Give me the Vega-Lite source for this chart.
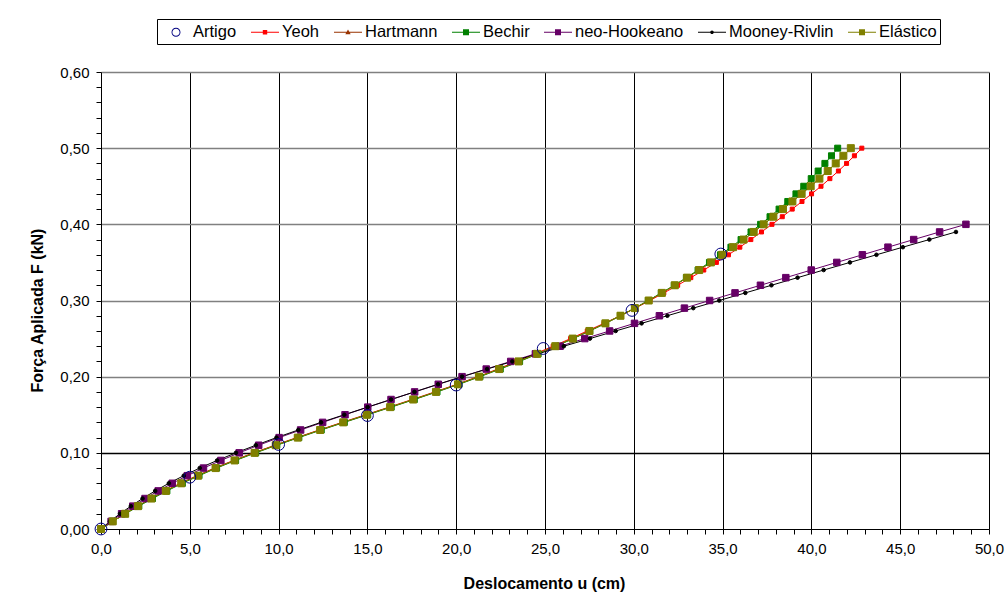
{
"$schema": "https://vega.github.io/schema/vega-lite/v6.json",
"width": 888, "height": 457,
"autosize": "none",
"padding": {"left": 101, "top": 72, "right": 16, "bottom": 77},
"background": "white",
"config": {"view": {"stroke": null}, "font": "Liberation Sans"},
"data": {"values": [
{"s":"Yeoh","F":0,"u":0},{"s":"Yeoh","F":0.01,"u":0.64},{"s":"Yeoh","F":0.02,"u":1.34},{"s":"Yeoh","F":0.03,"u":2.06},{"s":"Yeoh","F":0.04,"u":2.81},{"s":"Yeoh","F":0.05,"u":3.59},{"s":"Yeoh","F":0.06,"u":4.46},{"s":"Yeoh","F":0.07,"u":5.40},{"s":"Yeoh","F":0.08,"u":6.39},{"s":"Yeoh","F":0.09,"u":7.46},{"s":"Yeoh","F":0.10,"u":8.59},{"s":"Yeoh","F":0.11,"u":9.78},{"s":"Yeoh","F":0.12,"u":11.02},{"s":"Yeoh","F":0.13,"u":12.28},{"s":"Yeoh","F":0.14,"u":13.58},{"s":"Yeoh","F":0.15,"u":14.90},{"s":"Yeoh","F":0.16,"u":16.22},{"s":"Yeoh","F":0.17,"u":17.52},{"s":"Yeoh","F":0.18,"u":18.80},{"s":"Yeoh","F":0.19,"u":20.04},{"s":"Yeoh","F":0.20,"u":21.22},{"s":"Yeoh","F":0.21,"u":22.34},{"s":"Yeoh","F":0.22,"u":23.39},{"s":"Yeoh","F":0.23,"u":24.44},{"s":"Yeoh","F":0.24,"u":25.46},{"s":"Yeoh","F":0.25,"u":26.44},{"s":"Yeoh","F":0.26,"u":27.38},{"s":"Yeoh","F":0.27,"u":28.32},{"s":"Yeoh","F":0.28,"u":29.25},{"s":"Yeoh","F":0.29,"u":30.09},{"s":"Yeoh","F":0.30,"u":30.91},{"s":"Yeoh","F":0.31,"u":31.69},{"s":"Yeoh","F":0.32,"u":32.47},{"s":"Yeoh","F":0.33,"u":33.21},{"s":"Yeoh","F":0.34,"u":33.94},{"s":"Yeoh","F":0.35,"u":34.65},{"s":"Yeoh","F":0.36,"u":35.33},{"s":"Yeoh","F":0.37,"u":35.97},{"s":"Yeoh","F":0.38,"u":36.59},{"s":"Yeoh","F":0.39,"u":37.19},{"s":"Yeoh","F":0.40,"u":37.78},{"s":"Yeoh","F":0.41,"u":38.36},{"s":"Yeoh","F":0.42,"u":38.92},{"s":"Yeoh","F":0.43,"u":39.47},{"s":"Yeoh","F":0.44,"u":40.01},{"s":"Yeoh","F":0.45,"u":40.54},{"s":"Yeoh","F":0.46,"u":41.04},{"s":"Yeoh","F":0.47,"u":41.52},{"s":"Yeoh","F":0.48,"u":41.98},{"s":"Yeoh","F":0.49,"u":42.42},{"s":"Yeoh","F":0.50,"u":42.84},
{"s":"Hartmann","F":0,"u":0},{"s":"Hartmann","F":0.01,"u":0.66},{"s":"Hartmann","F":0.02,"u":1.36},{"s":"Hartmann","F":0.03,"u":2.08},{"s":"Hartmann","F":0.04,"u":2.84},{"s":"Hartmann","F":0.05,"u":3.65},{"s":"Hartmann","F":0.06,"u":4.52},{"s":"Hartmann","F":0.07,"u":5.46},{"s":"Hartmann","F":0.08,"u":6.45},{"s":"Hartmann","F":0.09,"u":7.52},{"s":"Hartmann","F":0.10,"u":8.65},{"s":"Hartmann","F":0.11,"u":9.84},{"s":"Hartmann","F":0.12,"u":11.08},{"s":"Hartmann","F":0.13,"u":12.34},{"s":"Hartmann","F":0.14,"u":13.64},{"s":"Hartmann","F":0.15,"u":14.96},{"s":"Hartmann","F":0.16,"u":16.28},{"s":"Hartmann","F":0.17,"u":17.58},{"s":"Hartmann","F":0.18,"u":18.86},{"s":"Hartmann","F":0.19,"u":20.10},{"s":"Hartmann","F":0.20,"u":21.28},{"s":"Hartmann","F":0.21,"u":22.42},{"s":"Hartmann","F":0.22,"u":23.51},{"s":"Hartmann","F":0.23,"u":24.56},{"s":"Hartmann","F":0.24,"u":25.58},{"s":"Hartmann","F":0.25,"u":26.56},{"s":"Hartmann","F":0.26,"u":27.50},{"s":"Hartmann","F":0.27,"u":28.40},{"s":"Hartmann","F":0.28,"u":29.25},{"s":"Hartmann","F":0.29,"u":30.06},{"s":"Hartmann","F":0.30,"u":30.84},{"s":"Hartmann","F":0.31,"u":31.58},{"s":"Hartmann","F":0.32,"u":32.31},{"s":"Hartmann","F":0.33,"u":33.00},{"s":"Hartmann","F":0.34,"u":33.68},{"s":"Hartmann","F":0.35,"u":34.34},{"s":"Hartmann","F":0.36,"u":34.98},{"s":"Hartmann","F":0.37,"u":35.59},{"s":"Hartmann","F":0.38,"u":36.18},{"s":"Hartmann","F":0.39,"u":36.75},{"s":"Hartmann","F":0.40,"u":37.31},{"s":"Hartmann","F":0.41,"u":37.86},{"s":"Hartmann","F":0.42,"u":38.40},{"s":"Hartmann","F":0.43,"u":38.93},{"s":"Hartmann","F":0.44,"u":39.45},{"s":"Hartmann","F":0.45,"u":39.96},{"s":"Hartmann","F":0.46,"u":40.45},{"s":"Hartmann","F":0.47,"u":40.92},{"s":"Hartmann","F":0.48,"u":41.37},{"s":"Hartmann","F":0.49,"u":41.80},{"s":"Hartmann","F":0.50,"u":42.22},
{"s":"Bechir","F":0,"u":0},{"s":"Bechir","F":0.01,"u":0.66},{"s":"Bechir","F":0.02,"u":1.37},{"s":"Bechir","F":0.03,"u":2.13},{"s":"Bechir","F":0.04,"u":2.90},{"s":"Bechir","F":0.05,"u":3.71},{"s":"Bechir","F":0.06,"u":4.58},{"s":"Bechir","F":0.07,"u":5.52},{"s":"Bechir","F":0.08,"u":6.51},{"s":"Bechir","F":0.09,"u":7.58},{"s":"Bechir","F":0.10,"u":8.71},{"s":"Bechir","F":0.11,"u":9.90},{"s":"Bechir","F":0.12,"u":11.14},{"s":"Bechir","F":0.13,"u":12.40},{"s":"Bechir","F":0.14,"u":13.70},{"s":"Bechir","F":0.15,"u":15.02},{"s":"Bechir","F":0.16,"u":16.34},{"s":"Bechir","F":0.17,"u":17.64},{"s":"Bechir","F":0.18,"u":18.92},{"s":"Bechir","F":0.19,"u":20.16},{"s":"Bechir","F":0.20,"u":21.34},{"s":"Bechir","F":0.21,"u":22.48},{"s":"Bechir","F":0.22,"u":23.57},{"s":"Bechir","F":0.23,"u":24.61},{"s":"Bechir","F":0.24,"u":25.62},{"s":"Bechir","F":0.25,"u":26.59},{"s":"Bechir","F":0.26,"u":27.52},{"s":"Bechir","F":0.27,"u":28.41},{"s":"Bechir","F":0.28,"u":29.25},{"s":"Bechir","F":0.29,"u":30.05},{"s":"Bechir","F":0.30,"u":30.82},{"s":"Bechir","F":0.31,"u":31.55},{"s":"Bechir","F":0.32,"u":32.28},{"s":"Bechir","F":0.33,"u":32.96},{"s":"Bechir","F":0.34,"u":33.62},{"s":"Bechir","F":0.35,"u":34.26},{"s":"Bechir","F":0.36,"u":34.88},{"s":"Bechir","F":0.37,"u":35.47},{"s":"Bechir","F":0.38,"u":36.04},{"s":"Bechir","F":0.39,"u":36.60},{"s":"Bechir","F":0.40,"u":37.14},{"s":"Bechir","F":0.41,"u":37.67},{"s":"Bechir","F":0.42,"u":38.18},{"s":"Bechir","F":0.43,"u":38.67},{"s":"Bechir","F":0.44,"u":39.13},{"s":"Bechir","F":0.45,"u":39.57},{"s":"Bechir","F":0.46,"u":39.99},{"s":"Bechir","F":0.47,"u":40.38},{"s":"Bechir","F":0.48,"u":40.76},{"s":"Bechir","F":0.49,"u":41.13},{"s":"Bechir","F":0.50,"u":41.48},
{"s":"neo-Hookeano","F":0,"u":0},{"s":"neo-Hookeano","F":0.01,"u":0.57},{"s":"neo-Hookeano","F":0.02,"u":1.16},{"s":"neo-Hookeano","F":0.03,"u":1.79},{"s":"neo-Hookeano","F":0.04,"u":2.48},{"s":"neo-Hookeano","F":0.05,"u":3.22},{"s":"neo-Hookeano","F":0.06,"u":4.01},{"s":"neo-Hookeano","F":0.07,"u":4.86},{"s":"neo-Hookeano","F":0.08,"u":5.77},{"s":"neo-Hookeano","F":0.09,"u":6.75},{"s":"neo-Hookeano","F":0.10,"u":7.78},{"s":"neo-Hookeano","F":0.11,"u":8.88},{"s":"neo-Hookeano","F":0.12,"u":10.03},{"s":"neo-Hookeano","F":0.13,"u":11.24},{"s":"neo-Hookeano","F":0.14,"u":12.48},{"s":"neo-Hookeano","F":0.15,"u":13.74},{"s":"neo-Hookeano","F":0.16,"u":15.02},{"s":"neo-Hookeano","F":0.17,"u":16.33},{"s":"neo-Hookeano","F":0.18,"u":17.66},{"s":"neo-Hookeano","F":0.19,"u":18.99},{"s":"neo-Hookeano","F":0.20,"u":20.33},{"s":"neo-Hookeano","F":0.21,"u":21.69},{"s":"neo-Hookeano","F":0.22,"u":23.07},{"s":"neo-Hookeano","F":0.23,"u":24.46},{"s":"neo-Hookeano","F":0.24,"u":25.85},{"s":"neo-Hookeano","F":0.25,"u":27.24},{"s":"neo-Hookeano","F":0.26,"u":28.64},{"s":"neo-Hookeano","F":0.27,"u":30.04},{"s":"neo-Hookeano","F":0.28,"u":31.44},{"s":"neo-Hookeano","F":0.29,"u":32.85},{"s":"neo-Hookeano","F":0.30,"u":34.27},{"s":"neo-Hookeano","F":0.31,"u":35.70},{"s":"neo-Hookeano","F":0.32,"u":37.13},{"s":"neo-Hookeano","F":0.33,"u":38.56},{"s":"neo-Hookeano","F":0.34,"u":39.99},{"s":"neo-Hookeano","F":0.35,"u":41.43},{"s":"neo-Hookeano","F":0.36,"u":42.87},{"s":"neo-Hookeano","F":0.37,"u":44.31},{"s":"neo-Hookeano","F":0.38,"u":45.76},{"s":"neo-Hookeano","F":0.39,"u":47.22},{"s":"neo-Hookeano","F":0.40,"u":48.70},
{"s":"Mooney-Rivlin","F":0,"u":0},{"s":"Mooney-Rivlin","F":0.01,"u":0.50},{"s":"Mooney-Rivlin","F":0.02,"u":1.07},{"s":"Mooney-Rivlin","F":0.03,"u":1.68},{"s":"Mooney-Rivlin","F":0.04,"u":2.34},{"s":"Mooney-Rivlin","F":0.05,"u":3.05},{"s":"Mooney-Rivlin","F":0.06,"u":3.82},{"s":"Mooney-Rivlin","F":0.07,"u":4.66},{"s":"Mooney-Rivlin","F":0.08,"u":5.56},{"s":"Mooney-Rivlin","F":0.09,"u":6.54},{"s":"Mooney-Rivlin","F":0.10,"u":7.60},{"s":"Mooney-Rivlin","F":0.11,"u":8.72},{"s":"Mooney-Rivlin","F":0.12,"u":9.88},{"s":"Mooney-Rivlin","F":0.13,"u":11.11},{"s":"Mooney-Rivlin","F":0.14,"u":12.39},{"s":"Mooney-Rivlin","F":0.15,"u":13.70},{"s":"Mooney-Rivlin","F":0.16,"u":15.01},{"s":"Mooney-Rivlin","F":0.17,"u":16.33},{"s":"Mooney-Rivlin","F":0.18,"u":17.65},{"s":"Mooney-Rivlin","F":0.19,"u":18.98},{"s":"Mooney-Rivlin","F":0.20,"u":20.33},{"s":"Mooney-Rivlin","F":0.21,"u":21.74},{"s":"Mooney-Rivlin","F":0.22,"u":23.16},{"s":"Mooney-Rivlin","F":0.23,"u":24.60},{"s":"Mooney-Rivlin","F":0.24,"u":26.06},{"s":"Mooney-Rivlin","F":0.25,"u":27.53},{"s":"Mooney-Rivlin","F":0.26,"u":28.98},{"s":"Mooney-Rivlin","F":0.27,"u":30.44},{"s":"Mooney-Rivlin","F":0.28,"u":31.89},{"s":"Mooney-Rivlin","F":0.29,"u":33.35},{"s":"Mooney-Rivlin","F":0.30,"u":34.81},{"s":"Mooney-Rivlin","F":0.31,"u":36.28},{"s":"Mooney-Rivlin","F":0.32,"u":37.75},{"s":"Mooney-Rivlin","F":0.33,"u":39.22},{"s":"Mooney-Rivlin","F":0.34,"u":40.69},{"s":"Mooney-Rivlin","F":0.35,"u":42.17},{"s":"Mooney-Rivlin","F":0.36,"u":43.66},{"s":"Mooney-Rivlin","F":0.37,"u":45.15},{"s":"Mooney-Rivlin","F":0.38,"u":46.64},{"s":"Mooney-Rivlin","F":0.39,"u":48.14},
{"s":"Elástico","F":0,"u":0},{"s":"Elástico","F":0.01,"u":0.66},{"s":"Elástico","F":0.02,"u":1.36},{"s":"Elástico","F":0.03,"u":2.08},{"s":"Elástico","F":0.04,"u":2.84},{"s":"Elástico","F":0.05,"u":3.65},{"s":"Elástico","F":0.06,"u":4.52},{"s":"Elástico","F":0.07,"u":5.46},{"s":"Elástico","F":0.08,"u":6.45},{"s":"Elástico","F":0.09,"u":7.52},{"s":"Elástico","F":0.10,"u":8.65},{"s":"Elástico","F":0.11,"u":9.84},{"s":"Elástico","F":0.12,"u":11.08},{"s":"Elástico","F":0.13,"u":12.34},{"s":"Elástico","F":0.14,"u":13.64},{"s":"Elástico","F":0.15,"u":14.96},{"s":"Elástico","F":0.16,"u":16.28},{"s":"Elástico","F":0.17,"u":17.58},{"s":"Elástico","F":0.18,"u":18.86},{"s":"Elástico","F":0.19,"u":20.10},{"s":"Elástico","F":0.20,"u":21.28},{"s":"Elástico","F":0.21,"u":22.42},{"s":"Elástico","F":0.22,"u":23.51},{"s":"Elástico","F":0.23,"u":24.56},{"s":"Elástico","F":0.24,"u":25.58},{"s":"Elástico","F":0.25,"u":26.56},{"s":"Elástico","F":0.26,"u":27.50},{"s":"Elástico","F":0.27,"u":28.40},{"s":"Elástico","F":0.28,"u":29.25},{"s":"Elástico","F":0.29,"u":30.06},{"s":"Elástico","F":0.30,"u":30.84},{"s":"Elástico","F":0.31,"u":31.58},{"s":"Elástico","F":0.32,"u":32.31},{"s":"Elástico","F":0.33,"u":33.00},{"s":"Elástico","F":0.34,"u":33.68},{"s":"Elástico","F":0.35,"u":34.34},{"s":"Elástico","F":0.36,"u":34.98},{"s":"Elástico","F":0.37,"u":35.59},{"s":"Elástico","F":0.38,"u":36.18},{"s":"Elástico","F":0.39,"u":36.75},{"s":"Elástico","F":0.40,"u":37.31},{"s":"Elástico","F":0.41,"u":37.86},{"s":"Elástico","F":0.42,"u":38.40},{"s":"Elástico","F":0.43,"u":38.93},{"s":"Elástico","F":0.44,"u":39.45},{"s":"Elástico","F":0.45,"u":39.96},{"s":"Elástico","F":0.46,"u":40.45},{"s":"Elástico","F":0.47,"u":40.92},{"s":"Elástico","F":0.48,"u":41.37},{"s":"Elástico","F":0.49,"u":41.80},{"s":"Elástico","F":0.50,"u":42.22},
{"s":"Artigo","F":0,"u":0},{"s":"Artigo","F":0.068,"u":5.0},{"s":"Artigo","F":0.111,"u":10.0},{"s":"Artigo","F":0.149,"u":15.0},{"s":"Artigo","F":0.189,"u":20.0},{"s":"Artigo","F":0.237,"u":24.9},{"s":"Artigo","F":0.287,"u":29.9},{"s":"Artigo","F":0.361,"u":34.9}
]},
"encoding": {
  "x": {"field": "u", "type": "quantitative",
    "scale": {"domain": [0, 50], "nice": false, "zero": false},
    "axis": {"values": [0,1,2,3,4,5,6,7,8,9,10,11,12,13,14,15,16,17,18,19,20,21,22,23,24,25,26,27,28,29,30,31,32,33,34,35,36,37,38,39,40,41,42,43,44,45,46,47,48,49,50],
      "labelExpr": "datum.value % 5 === 0 ? replace(format(datum.value, '.1f'), '.', ',') : ''",
      "labelOverlap": false, "labelFlush": false,
      "title": "Deslocamento u (cm)", "titleFontSize": 16, "titleFontWeight": "bold", "titleColor": "#000",
      "titleBaseline": "middle", "titleY": 54, "titleX": 443,
      "labelFontSize": 15, "labelColor": "#000", "labelPadding": 7,
      "domainColor": "#000", "tickColor": "#000", "tickSize": 5,
      "grid": true, "gridColor": "#000", "gridWidth": 1,
      "gridOpacity": {"condition": {"test": "datum.value % 5 === 0 && datum.value > 0", "value": 1}, "value": 0}}},
  "y": {"field": "F", "type": "quantitative",
    "scale": {"domain": [0, 0.6], "nice": false, "zero": false},
    "axis": {"values": [0,0.02,0.04,0.06,0.08,0.1,0.12,0.14,0.16,0.18,0.2,0.22,0.24,0.26,0.28,0.3,0.32,0.34,0.36,0.38,0.4,0.42,0.44,0.46,0.48,0.5,0.52,0.54,0.56,0.58,0.6],
      "labelExpr": "abs(datum.value * 10 - round(datum.value * 10)) < 0.001 ? replace(format(datum.value, '.2f'), '.', ',') : ''",
      "labelOverlap": false, "labelFlush": false,
      "title": "Força Aplicada F (kN)", "titleFontSize": 16, "titleFontWeight": "bold", "titleColor": "#000",
      "titleAngle": -90, "titleBaseline": "middle", "titleAlign": "center", "titleX": -64, "titleY": 238,
      "labelFontSize": 15, "labelColor": "#000", "labelPadding": 7,
      "domainColor": "#000", "tickColor": "#000", "tickSize": 5,
      "grid": true, "gridWidth": 1.5,
      "gridColor": {"condition": {"test": "abs(datum.value - 0.1) < 0.001", "value": "#000"}, "value": "#808080"},
      "gridOpacity": {"condition": {"test": "abs(datum.value * 10 - round(datum.value * 10)) < 0.001 && datum.value > 0", "value": 1}, "value": 0}}}
},
"layer": [
  {"transform": [{"filter": "datum.s !== 'Artigo'"}],
   "mark": {"type": "line", "strokeWidth": 1},
   "encoding": {
     "detail": {"field": "s"},
     "order": {"field": "F", "type": "quantitative"},
     "stroke": {"condition": [
        {"test": "datum.s === 'Yeoh'", "value": "#FF0000"},
        {"test": "datum.s === 'Hartmann'", "value": "#993300"},
        {"test": "datum.s === 'Bechir'", "value": "#008000"},
        {"test": "datum.s === 'neo-Hookeano'", "value": "#660066"},
        {"test": "datum.s === 'Mooney-Rivlin'", "value": "#000000"}], "value": "#808000"}}},
  {"mark": {"type": "point", "filled": true, "opacity": 1, "strokeWidth": 1},
   "encoding": {
     "shape": {"condition": [
        {"test": "datum.s === 'Hartmann'", "value": "triangle-up"},
        {"test": "datum.s === 'Artigo' || datum.s === 'Mooney-Rivlin'", "value": "circle"}], "value": "square"},
     "size": {"condition": [
        {"test": "datum.s === 'Artigo'", "value": 140},
        {"test": "datum.s === 'Yeoh'", "value": 16},
        {"test": "datum.s === 'Hartmann'", "value": 30},
        {"test": "datum.s === 'Bechir'", "value": 36},
        {"test": "datum.s === 'neo-Hookeano'", "value": 42},
        {"test": "datum.s === 'Mooney-Rivlin'", "value": 13}], "value": 49},
     "fill": {"condition": [
        {"test": "datum.s === 'Artigo'", "value": "transparent"},
        {"test": "datum.s === 'Yeoh'", "value": "#FF0000"},
        {"test": "datum.s === 'Hartmann'", "value": "#993300"},
        {"test": "datum.s === 'Bechir'", "value": "#008000"},
        {"test": "datum.s === 'neo-Hookeano'", "value": "#660066"},
        {"test": "datum.s === 'Mooney-Rivlin'", "value": "#000000"}], "value": "#808000"},
     "stroke": {"condition": [
        {"test": "datum.s === 'Artigo'", "value": "#000080"},
        {"test": "datum.s === 'Yeoh'", "value": "#FF0000"},
        {"test": "datum.s === 'Hartmann'", "value": "#993300"},
        {"test": "datum.s === 'Bechir'", "value": "#008000"},
        {"test": "datum.s === 'neo-Hookeano'", "value": "#660066"},
        {"test": "datum.s === 'Mooney-Rivlin'", "value": "#000000"}], "value": "#808000"}}},
  {"mark": {"type": "point", "filled": true, "opacity": 0},
   "encoding": {
     "color": {"field": "s", "type": "nominal",
       "scale": {"domain": ["Artigo","Yeoh","Hartmann","Bechir","neo-Hookeano","Mooney-Rivlin","Elástico"],
                 "range": ["#000080","#FF0000","#993300","#008000","#660066","#000000","#808000"]},
       "legend": {"title": null, "orient": "none", "legendX": 56, "legendY": -53, "direction": "horizontal", "columns": 7,
         "symbolSize": 400, "symbolStrokeWidth": 0, "symbolOpacity": 1, "labelOffset": 13, "columnPadding": 12, "padding": 3,
         "strokeColor": "#000", "fillColor": "#fff", "labelFontSize": 16.5, "labelColor": "#000", "labelFont": "Liberation Sans"}},
     "shape": {"field": "s", "type": "nominal",
       "scale": {"domain": ["Artigo","Yeoh","Hartmann","Bechir","neo-Hookeano","Mooney-Rivlin","Elástico"],
                 "range": [
                   "M0.15,0A0.45,0.45 0 1,1 1.05,0A0.45,0.45 0 1,1 0.15,0Z M0.24,0A0.36,0.36 0 1,0 0.96,0A0.36,0.36 0 1,0 0.24,0Z",
                   "M-0.8,-0.05H2V0.05H-0.8Z M0.38,-0.22H0.82V0.22H0.38Z",
                   "M-0.8,-0.05H2V0.05H-0.8Z M0.6,-0.27L0.87,0.2H0.33Z",
                   "M-0.8,-0.05H2V0.05H-0.8Z M0.3,-0.3H0.9V0.3H0.3Z",
                   "M-0.8,-0.05H2V0.05H-0.8Z M0.3,-0.3H0.9V0.3H0.3Z",
                   "M-0.8,-0.05H2V0.05H-0.8Z M0.42,0A0.18,0.18 0 1,1 0.78,0A0.18,0.18 0 1,1 0.42,0Z",
                   "M-0.8,-0.05H2V0.05H-0.8Z M0.3,-0.3H0.9V0.3H0.3Z"]},
       "legend": {"title": null, "orient": "none", "legendX": 56, "legendY": -53, "direction": "horizontal", "columns": 7,
         "symbolSize": 400, "symbolStrokeWidth": 0, "symbolOpacity": 1, "labelOffset": 13, "columnPadding": 12, "padding": 3,
         "strokeColor": "#000", "fillColor": "#fff", "labelFontSize": 16.5, "labelColor": "#000", "labelFont": "Liberation Sans"}}}}
]
}
